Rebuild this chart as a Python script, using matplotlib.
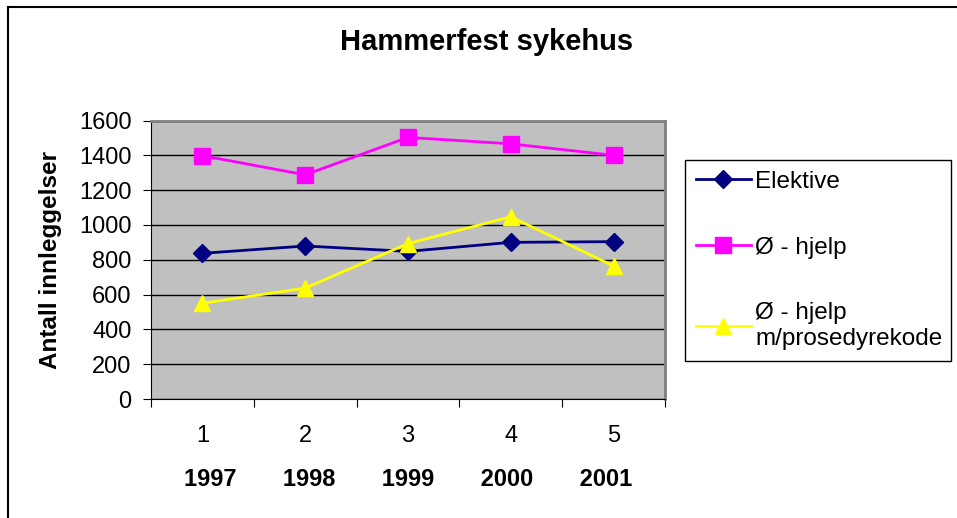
import matplotlib as mpl
import matplotlib.pyplot as plt
from matplotlib.lines import Line2D

mpl.rcParams.update({
    "font.family": ["Liberation Sans", "DejaVu Sans"],
    "font.size": 17,
})

# --- Data ---
categories = [1, 2, 3, 4, 5]
years = ["1997", "1998", "1999", "2000", "2001"]
elektive = [837, 879, 848, 900, 904]
o_hjelp = [1398, 1288, 1503, 1466, 1400]
o_hjelp_prosedyre = [550, 637, 893, 1047, 764]

COLORS = {
    "elektive": "#000080",
    "ohjelp": "#FF00FF",
    "prosedyre": "#FFFF00",
    "plot_bg": "#C0C0C0",
}

fig = plt.figure(figsize=(9.57, 5.18), dpi=100)
W, H = 957, 518
ax = fig.add_axes([151 / W, 1 - 399 / H, (665 - 151) / W, (399 - 120.5) / H])
ax.set_facecolor(COLORS["plot_bg"])

ax.plot(categories, elektive, color=COLORS["elektive"], marker="D",
        markersize=9, linewidth=2, label="Elektive", zorder=5)
ax.plot(categories, o_hjelp, color=COLORS["ohjelp"], marker="s",
        markersize=11, linewidth=2, label="Ø - hjelp", zorder=5)
ax.plot(categories, o_hjelp_prosedyre, color=COLORS["prosedyre"], marker="^",
        markersize=12, linewidth=2, label="Ø - hjelp\nm/prosedyrekode", zorder=5)

ax.set_xlim(0.5, 5.5)
ax.set_ylim(0, 1600)
ax.set_yticks(range(0, 1601, 200))
ax.yaxis.grid(True, color="black", linewidth=1)
ax.set_axisbelow(True)

# category ticks at boundaries, labels at centers
ax.set_xticks([0.5, 1.5, 2.5, 3.5, 4.5, 5.5])
ax.set_xticklabels([])
ax.set_xticks(categories, minor=True)
ax.set_xticklabels([str(c) for c in categories], minor=True)
ax.tick_params(axis="x", which="minor", length=0, pad=19)
ax.tick_params(axis="x", which="major", direction="out", length=6, color="black")
ax.tick_params(axis="y", direction="out", length=6, color="black", pad=8)
ax.tick_params(labelsize=17)

for s in ["top", "right"]:
    ax.spines[s].set_color("#808080")
    ax.spines[s].set_linewidth(2)
ax.spines["left"].set_color("black")
ax.spines["bottom"].set_color("black")

# x-axis title: the years, spaced under the category numbers
ax.set_xlabel((" " * 7).join(years), fontweight="bold", fontsize=17, labelpad=15)

ax.set_ylabel("Antall innleggelser", fontweight="bold", fontsize=17.5, labelpad=12)
fig.text(487 / W, 1 - 42 / H, "Hammerfest sykehus", ha="center", va="center",
         fontweight="bold", fontsize=21)

leg = ax.legend(loc="upper left", bbox_to_anchor=(685 / W, 1 - 360 / H, 266 / W, 200 / H),
                bbox_transform=fig.transFigure, mode="expand",
                frameon=True, fancybox=False, edgecolor="black", framealpha=1,
                labelspacing=1.8, handlelength=2.25, handletextpad=0.2,
                borderaxespad=0, borderpad=0.45, fontsize=17.5)
leg.get_frame().set_linewidth(1)

# figure border (left and top)
fig.add_artist(Line2D([8 / W, 8 / W], [0, 1 - 7 / H], transform=fig.transFigure,
                      color="black", linewidth=1.5))
fig.add_artist(Line2D([8 / W, 1], [1 - 7 / H, 1 - 7 / H], transform=fig.transFigure,
                      color="black", linewidth=1.5))

fig.savefig("out.png", dpi=100)
